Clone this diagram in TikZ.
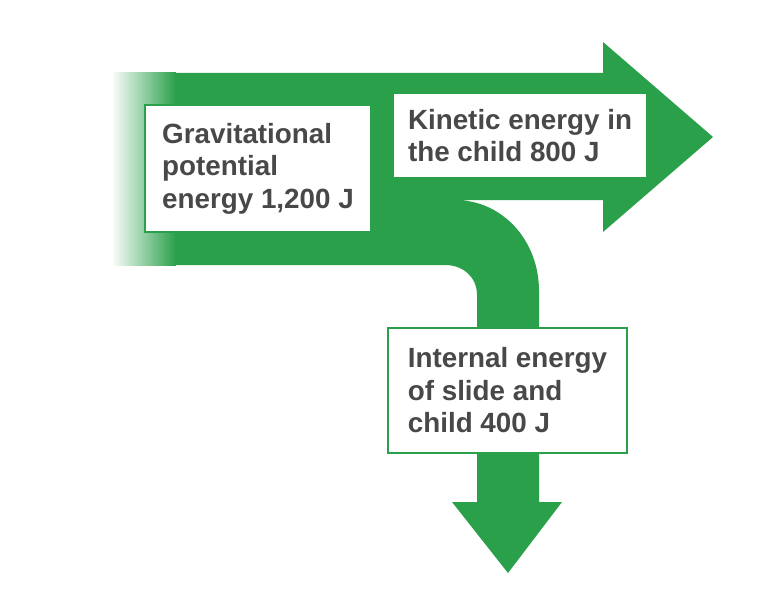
\documentclass[tikz,border=0pt]{standalone}
\usepackage{fontspec}
\setmainfont{Liberation Sans}
\usetikzlibrary{positioning}
\definecolor{flowgreen}{RGB}{42,160,74}
\definecolor{labelgrey}{RGB}{72,72,72}
\tikzset{
  energybox/.style={rectangle,draw=flowgreen,line width=2.5pt,fill=white,align=left,
    text=labelgrey,font=\fontsize{27.8pt}{32.5pt}\selectfont\bfseries},
}

\begin{document}
\begin{tikzpicture}[x=1pt,y=-1pt]
\useasboundingbox (0,0) rectangle (767,596);
\fill[white] (0,0) rectangle (767,596);
\fill[left color=flowgreen!4,right color=flowgreen] (113,73) rectangle (176,265);
\fill[flowgreen] (175,73) -- (603,73) -- (603,42) -- (713,137) -- (603,232) -- (603,200)
  -- (455,200) .. controls (502,200) and (539,240) .. (539,291)
  -- (539,502) -- (562,502) -- (508,573) -- (452,502) -- (477,502)
  -- (477,295) .. controls (477,277) and (463,265) .. (445,265)
  -- (175,265) -- cycle;
\node[energybox,minimum width=226pt,minimum height=127pt] (gpe) at (258,168.5)
  {Gravitational\\potential\\energy 1,200 J};
\node[energybox,minimum width=254pt,minimum height=85pt] (ke) at (520,135.5)
  {Kinetic energy in\\the child 800 J};
\node[energybox,minimum width=239pt,minimum height=125pt] (ie) at (507.5,390.5)
  {Internal energy\\of slide and\\child 400 J};
\end{tikzpicture}
\end{document}
